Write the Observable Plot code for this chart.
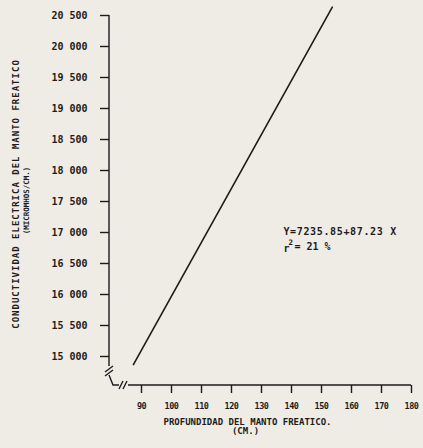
<!DOCTYPE html>
<html>
<head>
<meta charset="utf-8">
<script src="https://cdn.jsdelivr.net/npm/d3@7"></script>
<script src="https://cdn.jsdelivr.net/npm/@observablehq/plot@0.6"></script>
<style>
  html, body { margin: 0; padding: 0; background: #efece5; }
  svg { display: block; }
  svg text { fill: #1c1c1c; }
  svg [aria-label="x-axis tick label"] text { letter-spacing: -0.5px; }
  .ytitle1 text { letter-spacing: 1px; }
  .eq text { letter-spacing: 0.65px; }
</style>
</head>
<body>
<div id="chart"></div>
<script>
// Data
const lineX = [87.3, 153.6];          // profundidad (cm)
const lineY = [14870, 20635];         // conductividad (micromhos/cm)
const xTicks = [90, 100, 110, 120, 130, 140, 150, 160, 170, 180];
const yTicks = [15000, 15500, 16000, 16500, 17000, 17500, 18000, 18500, 19000, 19500, 20000, 20500];
const equationText = ["Y=7235.85+87.23 X"];
const r2Text = ["= 21 %"];
const annX = [137.3];
const annY = [17008];
const r2Y = [16766];
const xTitle = ["PROFUNDIDAD DEL MANTO FREATICO."];
const xUnit = ["(CM.)"];
const yTitle = ["CONDUCTIVIDAD ELECTRICA DEL MANTO FREATICO"];
const yUnit = ["(MICROMHOS/CM.)"];

const ink = "#1c1c1c";
const mono = "DejaVu Sans Mono";
const yFmt = d => d3.format(",")(d).replace(",", " ");

const line = lineX.map((x, i) => ({x, y: lineY[i]}));

// axis lines with break symbols, drawn from the scales
function axesWithBreaks(index, scales) {
  const x0 = scales.x(90) - 32;
  const y0 = scales.y(15000);
  const yTop = scales.y(20500);
  const xEnd = scales.x(180);
  const g = d3.create("svg:g")
    .attr("fill", "none").attr("stroke", ink).attr("stroke-width", 1.4);
  const seg = (pts) => g.append("path").attr("d", d3.line()(pts));
  seg([[x0, yTop], [x0, y0 + 10]]);
  seg([[x0 - 4, y0 + 16], [x0 + 4, y0 + 10]]);
  seg([[x0 - 4, y0 + 20], [x0 + 4, y0 + 14]]);
  seg([[x0, y0 + 19], [x0 + 4, y0 + 29], [x0 + 10, y0 + 29]]);
  seg([[x0 + 10, y0 + 33], [x0 + 14, y0 + 25]]);
  seg([[x0 + 14, y0 + 33], [x0 + 18, y0 + 25]]);
  seg([[x0 + 19, y0 + 29], [xEnd, y0 + 29]]);
  return g.node();
}

const chart = Plot.plot({
  width: 423,
  height: 448,
  marginLeft: 141,
  marginRight: 12,
  marginTop: 15,
  marginBottom: 92,
  style: {background: "#efece5", fontFamily: mono, color: ink},
  x: {domain: [90, 180], axis: null},
  y: {domain: [15000, 20500], axis: null},
  marks: [
    axesWithBreaks,
    Plot.axisY({ticks: yTicks, tickFormat: yFmt, tickSize: 9, tickPadding: 13, dx: -32, label: null,
      fontSize: 10, fontWeight: "bold", stroke: ink, strokeWidth: 1.4}),
    Plot.axisX({ticks: xTicks, tickFormat: d => String(d), tickSize: 8, tickPadding: 9, dy: 29, label: null,
      fontSize: 8.5, fontWeight: "bold", stroke: ink, strokeWidth: 1.4}),
    Plot.line(line, {x: "x", y: "y", stroke: ink, strokeWidth: 1.6}),
    Plot.text(equationText, {x: annX, y: annY, text: d => d, textAnchor: "start",
      fontSize: 10, fontWeight: "bold", className: "eq"}),
    Plot.text(["r"], {x: annX, y: r2Y, text: d => d, textAnchor: "start",
      fontSize: 10, fontWeight: "bold", dy: 1.5}),
    Plot.text(["2"], {x: annX, y: r2Y, text: d => d, textAnchor: "start",
      fontSize: 7.5, fontWeight: "bold", dx: 5, dy: -4.5}),
    Plot.text(r2Text, {x: annX, y: r2Y, text: d => d, textAnchor: "start",
      fontSize: 10, fontWeight: "bold", dx: 11}),
    Plot.text(xTitle, {frameAnchor: "bottom", text: d => d, textAnchor: "middle", lineAnchor: "middle",
      dx: -29, dy: 66, fontSize: 9, fontWeight: "bold"}),
    Plot.text(xUnit, {frameAnchor: "bottom", text: d => d, textAnchor: "middle", lineAnchor: "middle",
      dx: -31, dy: 75, fontSize: 9, fontWeight: "bold"}),
    Plot.text(yTitle, {frameAnchor: "left", text: d => d, rotate: -90, textAnchor: "middle", lineAnchor: "middle",
      dx: -125.5, dy: 8, fontSize: 9, fontWeight: "bold", className: "ytitle1"}),
    Plot.text(yUnit, {frameAnchor: "left", text: d => d, rotate: -90, textAnchor: "middle", lineAnchor: "middle",
      dx: -115, dy: 14.5, fontSize: 7.5, fontWeight: "bold"})
  ]
});
document.getElementById("chart").appendChild(chart);
</script>
</body>
</html>
